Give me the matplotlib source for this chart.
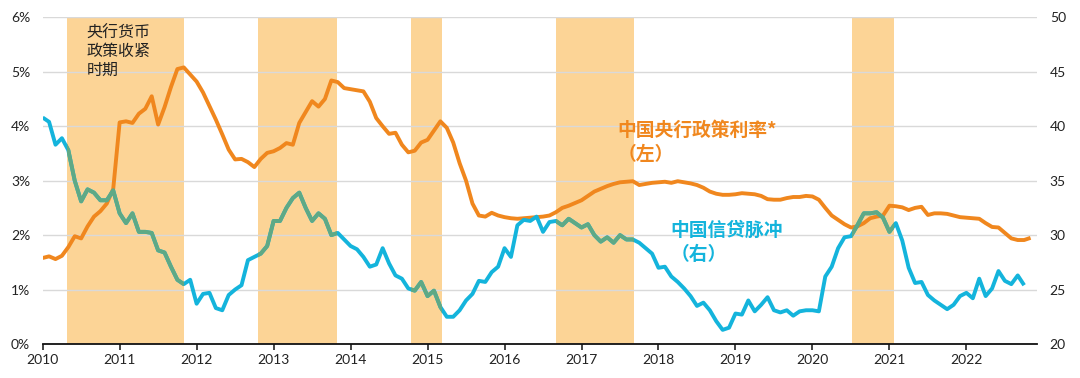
import numpy as np
import matplotlib
matplotlib.use("Agg")
import matplotlib.pyplot as plt
from matplotlib.patches import Rectangle

# ---------------- data (monthly, starting Jan 2010) ----------------
start_year = 2010
policy_rate = [  # 中国央行政策利率 (%), left axis, Jan 2010 - Nov 2022
    1.58, 1.61, 1.56, 1.62, 1.78, 1.98, 1.94, 2.16, 2.34, 2.44, 2.58, 2.85,
    4.07, 4.09, 4.06, 4.23, 4.32, 4.55, 4.03, 4.35, 4.72, 5.05, 5.08, 4.95,
    4.82, 4.62, 4.37, 4.12, 3.85, 3.57, 3.39, 3.40, 3.34, 3.25, 3.40, 3.51,
    3.54, 3.60, 3.69, 3.66, 4.06, 4.26, 4.46, 4.36, 4.50, 4.84, 4.81, 4.70,
    4.68, 4.66, 4.64, 4.45, 4.15, 4.00, 3.86, 3.88, 3.66, 3.52, 3.55, 3.70,
    3.75, 3.92, 4.09, 3.97, 3.70, 3.32, 3.00, 2.58, 2.36, 2.34, 2.41, 2.36,
    2.33, 2.31, 2.30, 2.31, 2.32, 2.33, 2.34, 2.36, 2.42, 2.50, 2.54, 2.59,
    2.64, 2.72, 2.80, 2.85, 2.90, 2.94, 2.97, 2.98, 2.99, 2.92, 2.94, 2.96,
    2.97, 2.98, 2.96, 2.99, 2.97, 2.95, 2.92, 2.87, 2.80, 2.76, 2.74, 2.74,
    2.75, 2.77, 2.76, 2.75, 2.72, 2.66, 2.65, 2.65, 2.68, 2.70, 2.70, 2.72,
    2.71, 2.65, 2.50, 2.36, 2.28, 2.20, 2.14, 2.16, 2.22, 2.31, 2.34, 2.36,
    2.54, 2.53, 2.51, 2.46, 2.50, 2.52, 2.37, 2.40, 2.40, 2.39, 2.36, 2.33,
    2.32, 2.31, 2.30, 2.22, 2.15, 2.14, 2.04, 1.94, 1.91, 1.91, 1.95,
]
credit_impulse = [  # 中国信贷脉冲, right axis, Jan 2010 - Oct 2022
    40.8, 40.4, 38.3, 38.9, 37.8, 35.0, 33.1, 34.2, 33.9, 33.2, 33.2, 34.1,
    32.0, 31.1, 32.0, 30.3, 30.3, 30.2, 28.6, 28.4, 27.1, 25.9, 25.5, 25.9,
    23.7, 24.6, 24.7, 23.3, 23.1, 24.5, 25.0, 25.4, 27.7, 28.0, 28.3, 29.0,
    31.3, 31.3, 32.5, 33.4, 33.9, 32.5, 31.3, 32.0, 31.5, 30.0, 30.2, 29.6,
    29.0, 28.7, 28.0, 27.1, 27.3, 28.8, 27.4, 26.3, 26.0, 25.1, 24.9, 25.7,
    24.4, 24.9, 23.4, 22.5, 22.5, 23.1, 24.0, 24.6, 25.8, 25.7, 26.6, 27.1,
    28.8, 28.0, 30.9, 31.4, 31.3, 31.7, 30.3, 31.2, 31.3, 30.9, 31.5, 31.1,
    30.7, 31.0, 30.0, 29.4, 29.8, 29.3, 30.0, 29.6, 29.6, 29.3, 28.8, 28.3,
    27.0, 27.1, 26.2, 25.7, 25.1, 24.4, 23.5, 23.8, 23.1, 22.1, 21.3, 21.5,
    22.8, 22.7, 24.0, 23.0, 23.6, 24.3, 23.1, 22.9, 23.1, 22.6, 23.0, 23.1,
    23.1, 23.0, 26.2, 27.1, 28.8, 29.8, 29.9, 30.9, 32.0, 32.0, 32.1, 31.6,
    30.3, 31.1, 29.5, 27.0, 25.6, 25.7, 24.5, 24.0, 23.6, 23.2, 23.6, 24.4,
    24.7, 24.2, 26.0, 24.4, 25.1, 26.7, 25.8, 25.5, 26.3, 25.4,
]
# 央行货币政策收紧时期 (tightening periods, in fractional years)
shade_start = [2010.32, 2012.80, 2014.79, 2016.675, 2020.52]
shade_end = [2011.835, 2013.83, 2015.19, 2017.68, 2021.06]
year_ticks = list(range(2010, 2023))
left_ticks = [0, 1, 2, 3, 4, 5, 6]
right_ticks = [20, 25, 30, 35, 40, 45, 50]

# ---------------- style ----------------
ORANGE = "#F0871E"
CYAN = "#14B4DC"
GREEN = "#5FA985"
SHADE = "#FCD496"
GRID = "#D9D9D9"
TXT = "#222222"
CJK = ["Noto Sans CJK SC", "DejaVu Sans"]

plt.rcParams["font.family"] = ["Lato", "Noto Sans CJK SC", "DejaVu Sans"]

fig = plt.figure(figsize=(10.8, 3.78), dpi=100)
ax = fig.add_axes([0.0395, 0.0899, 0.9209, 0.8643])
ax2 = ax.twinx()

x_policy = start_year + np.arange(len(policy_rate)) / 12.0
x_credit = start_year + np.arange(len(credit_impulse)) / 12.0

ax.set_xlim(2010, 2022.92)
ax.set_ylim(0, 6)
ax2.set_ylim(20, 50)

for s, e in zip(shade_start, shade_end):
    ax.axvspan(s, e, color=SHADE, lw=0, zorder=0)

ax.set_axisbelow(True)
ax.grid(axis="y", color=GRID, lw=1.0)
ax.grid(axis="x", visible=False)

ax.plot(x_policy, policy_rate, color=ORANGE, lw=2.8, zorder=3,
        solid_joinstyle="round", solid_capstyle="butt")

ax2.plot(x_credit, credit_impulse, color=CYAN, lw=2.8, zorder=3,
         solid_joinstyle="round", solid_capstyle="butt")
for s, e in zip(shade_start, shade_end):
    ln, = ax2.plot(x_credit, credit_impulse, color=GREEN, lw=2.8, zorder=4,
                   solid_joinstyle="round", solid_capstyle="butt")
    ln.set_clip_path(Rectangle((s, -100), e - s, 1000, transform=ax2.transData))

# axes cosmetics
for a in (ax, ax2):
    for side in ("top", "left", "right"):
        a.spines[side].set_visible(False)
ax2.spines["bottom"].set_visible(False)
ax.spines["bottom"].set_color("#111111")
ax.spines["bottom"].set_linewidth(1.3)

ax.set_xticks(year_ticks)
ax.set_xticklabels([str(y) for y in year_ticks])
ax.set_yticks(left_ticks)
ax.set_yticklabels([f"{v}%" for v in left_ticks])
ax2.set_yticks(right_ticks)
ax2.set_yticklabels([str(v) for v in right_ticks])

ax.tick_params(axis="x", length=4, width=1.1, color="#111111", pad=3,
               labelsize=10, labelcolor=TXT)
ax.tick_params(axis="y", length=0, pad=9, labelsize=10, labelcolor=TXT)
ax2.tick_params(axis="y", length=0, pad=9, labelsize=10, labelcolor=TXT)

# annotations
ax.text(2010.57, 5.86, "央行货币\n政策收紧\n时期", family=CJK, fontsize=11.5,
        color=TXT, ha="left", va="top", linespacing=1.1, zorder=5)
ax.text(2017.47, 3.92, "中国央行政策利率*", family=CJK, fontsize=13.5,
        fontweight="bold", color=ORANGE, ha="left", va="center", zorder=5)
ax.text(2017.47, 3.48, "（左）", family=CJK, fontsize=13.5,
        fontweight="bold", color=ORANGE, ha="left", va="center", zorder=5)
ax.text(2018.16, 2.08, "中国信贷脉冲", family=CJK, fontsize=13.5,
        fontweight="bold", color=CYAN, ha="left", va="center", zorder=5)
ax.text(2018.16, 1.64, "（右）", family=CJK, fontsize=13.5,
        fontweight="bold", color=CYAN, ha="left", va="center", zorder=5)

fig.savefig("out.png", dpi=100)
